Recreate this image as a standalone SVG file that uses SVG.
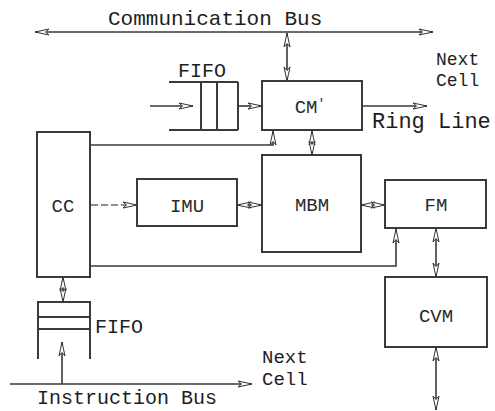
<svg xmlns="http://www.w3.org/2000/svg" width="495" height="411" viewBox="0 0 495 411">
<style>
.box{fill:none;stroke:#3a3a3a;stroke-width:2}
.ln{fill:none;stroke:#3a3a3a;stroke-width:1.6}
.lt{fill:none;stroke:#6a6a6a;stroke-width:1.4;stroke-dasharray:7 3}
.lbl{font-family:"Liberation Mono","Courier New",monospace;font-size:19px;fill:#2a2a2a;text-anchor:middle}
.txt{font-family:"Liberation Mono","Courier New",monospace;fill:#1e1e1e}
.d{marker-start:url(#ah);marker-end:url(#ah)}
.e{marker-end:url(#ah)}
</style>
<defs>
<marker id="ah" viewBox="0 0 16 9" refX="15" refY="4.5" markerWidth="16" markerHeight="9" markerUnits="userSpaceOnUse" orient="auto-start-reverse">
<path d="M1,1.5 L15,4.5 L1,7.5 L4.5,4.5 Z" fill="#fff" stroke="#333" stroke-width="1"/>
</marker>
</defs>
<rect width="495" height="411" fill="#fff"/>

<g id="labels">
<text class="txt" x="108" y="25" font-size="21">Communication Bus</text>
<text class="txt" x="436" y="65" font-size="18">Next</text>
<text class="txt" x="436" y="86" font-size="18">Cell</text>
<text class="txt" x="372" y="128" font-size="22">Ring Line</text>
<text class="txt" x="262" y="363" font-size="19">Next</text>
<text class="txt" x="262" y="385" font-size="19">Cell</text>
<text class="txt" x="37" y="404" font-size="20">Instruction Bus</text>
</g>

<g id="fifo-top">
<path class="box" d="M169,82 H238 M169,130 H238 M201,82 V130 M217,82 V130 M238,82 V130"/>
<text class="txt" x="178" y="77" font-size="20">FIFO</text>
</g>

<g id="cm">
<rect class="box" x="262" y="81" width="100" height="49"/>
<text class="lbl" x="310" y="113">CM<tspan font-size="13" dy="-6">'</tspan></text>
</g>

<g id="cc">
<rect class="box" x="37" y="132" width="53" height="145"/>
<text class="lbl" x="63" y="212">CC</text>
</g>

<g id="imu">
<rect class="box" x="137" y="179" width="100" height="47"/>
<text class="lbl" x="187" y="212">IMU</text>
</g>

<g id="mbm">
<rect class="box" x="262" y="155" width="99" height="97"/>
<text class="lbl" x="312" y="211">MBM</text>
</g>

<g id="fm">
<rect class="box" x="385" y="180" width="101" height="48"/>
<text class="lbl" x="436" y="211">FM</text>
</g>

<g id="cvm">
<rect class="box" x="385" y="277" width="102" height="70"/>
<text class="lbl" x="436" y="322">CVM</text>
</g>

<g id="fifo-bottom">
<path class="box" d="M38,359 V302 H90 V359 M38,317 H90 M38,329 H90"/>
<text class="txt" x="95" y="333" font-size="20">FIFO</text>
</g>

<g id="connectors">
<line class="ln d" x1="35" y1="32" x2="433" y2="32"/>
<line class="ln d" x1="287" y1="33" x2="287" y2="81"/>
<line class="ln e" x1="150" y1="106" x2="193" y2="106"/>
<line class="ln e" x1="238" y1="106" x2="262" y2="106"/>
<line class="ln e" x1="362" y1="106" x2="427" y2="106"/>
<polyline class="ln e" points="90,145 273,145 273,131"/>
<line class="ln d" x1="312" y1="131" x2="312" y2="155"/>
<line class="lt e" x1="91" y1="205" x2="137" y2="205"/>
<line class="ln d" x1="237" y1="205" x2="262" y2="205"/>
<line class="ln d" x1="361" y1="205" x2="385" y2="205"/>
<polyline class="ln e" points="90,266 396,266 396,229"/>
<line class="ln d" x1="436" y1="228" x2="436" y2="277"/>
<line class="ln d" x1="436" y1="347" x2="436" y2="410"/>
<line class="ln d" x1="63" y1="277" x2="63" y2="302"/>
<line class="ln e" x1="62" y1="384" x2="62" y2="342"/>
<line class="ln e" x1="10" y1="384" x2="252" y2="384"/>
</g>
</svg>
